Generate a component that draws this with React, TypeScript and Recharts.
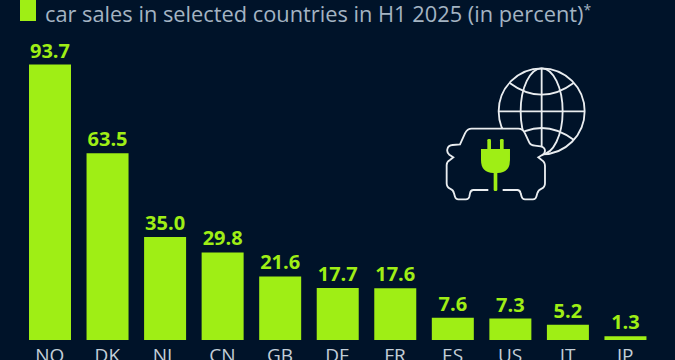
import { Bar, BarChart, LabelList, XAxis, YAxis } from "recharts"

const countries = ["NO", "DK", "NL", "CN", "GB", "DE", "FR", "ES", "US", "IT", "JP"]
const shares = [93.7, 63.5, 35.0, 29.8, 21.6, 17.7, 17.6, 7.6, 7.3, 5.2, 1.3]

const chartData = countries.map((name, i) => ({ name, share: shares[i] }))

const BG = "#001329"
const GREEN = "#9fee15"
const FONT = "'Open Sans', 'Noto Sans', sans-serif"

function Icon() {
  // drawn in the coordinates of a 3x crop, so scaled down
  return (
    <svg width={675} height={360} style={{ position: "absolute", left: 0, top: 0 }}>
      <g transform="translate(430 50) scale(0.3333)" fill="none" stroke="#e9edf0" strokeWidth={5.5}>
        <circle cx={335} cy={184} r={129} />
        <ellipse cx={335} cy={184} rx={63} ry={129} />
        <line x1={335} y1={55} x2={335} y2={313} />
        <line x1={206} y1={184} x2={464} y2={184} />
        <path d="M238 98 Q335 170 432 98" />
        <path d="M238 270 Q335 198 432 270" />
        <path
          d="M175 420 H130 Q122 420 120 430 L118 440 Q116 448 108 448 H85 Q77 448 75 440 L72 430 Q70 420 60 416 Q50 412 50 400 V345 Q50 335 60 330 L70 322 L58 314 Q50 308 52 298 Q54 286 68 285 L90 283 L105 250 Q112 236 125 236 H265 Q278 236 285 250 L298 278 Q302 286 315 287 L332 289 Q345 292 345 302 Q345 312 335 316 L325 322 L335 330 Q345 336 345 348 V400 Q345 412 335 416 Q325 420 322 430 L319 440 Q317 448 309 448 H285 Q277 448 275 440 L272 430 Q270 420 262 420 H218"
          fill={BG}
        />
        <g fill={GREEN} stroke="none">
          <rect x={172} y={267} width={11} height={34} rx={4} />
          <rect x={210} y={267} width={11} height={34} rx={4} />
          <path d="M153 297 H240 V330 Q240 368 203 369 H190 Q153 368 153 330 Z" />
          <rect x={191} y={365} width={11} height={58} rx={4} />
        </g>
      </g>
    </svg>
  )
}

export default function App() {
  return (
    <div style={{ position: "absolute", left: 0, top: 0, width: 675, height: 360, overflow: "hidden", background: BG, fontFamily: FONT }}>
      <div style={{ position: "absolute", left: 20, top: 0, width: 16, height: 21, background: GREEN }} />
      <svg width={675} height={40} style={{ position: "absolute", left: 0, top: 0 }}>
        <text x={45} y={22} fontSize={21.8} fill="#a4b4c3" fontFamily={FONT}>
          car sales in selected countries in H1 2025 (in percent)
          <tspan fontSize={14} dy={-7}>*</tspan>
        </text>
      </svg>
      <BarChart
        width={675}
        height={360}
        data={chartData}
        margin={{ top: 46, right: 21, bottom: 0, left: 21 }}
        style={{ position: "absolute", left: 0, top: 0 }}
      >
        <XAxis
          dataKey="name"
          interval={0}
          height={20}
          axisLine={false}
          tickLine={false}
          tickMargin={3}
          tick={{ fill: "#c3ced8", fontSize: 19, fontFamily: FONT }}
        />
        <YAxis hide domain={[0, 100]} />
        <Bar dataKey="share" fill={GREEN} barSize={42} isAnimationActive={false}>
          <LabelList
            dataKey="share"
            position="top"
            offset={7}
            formatter={(v: number) => v.toFixed(1)}
            style={{ fill: GREEN, fontSize: 20, fontWeight: 700, fontFamily: FONT }}
          />
        </Bar>
      </BarChart>
      <Icon />
    </div>
  )
}
